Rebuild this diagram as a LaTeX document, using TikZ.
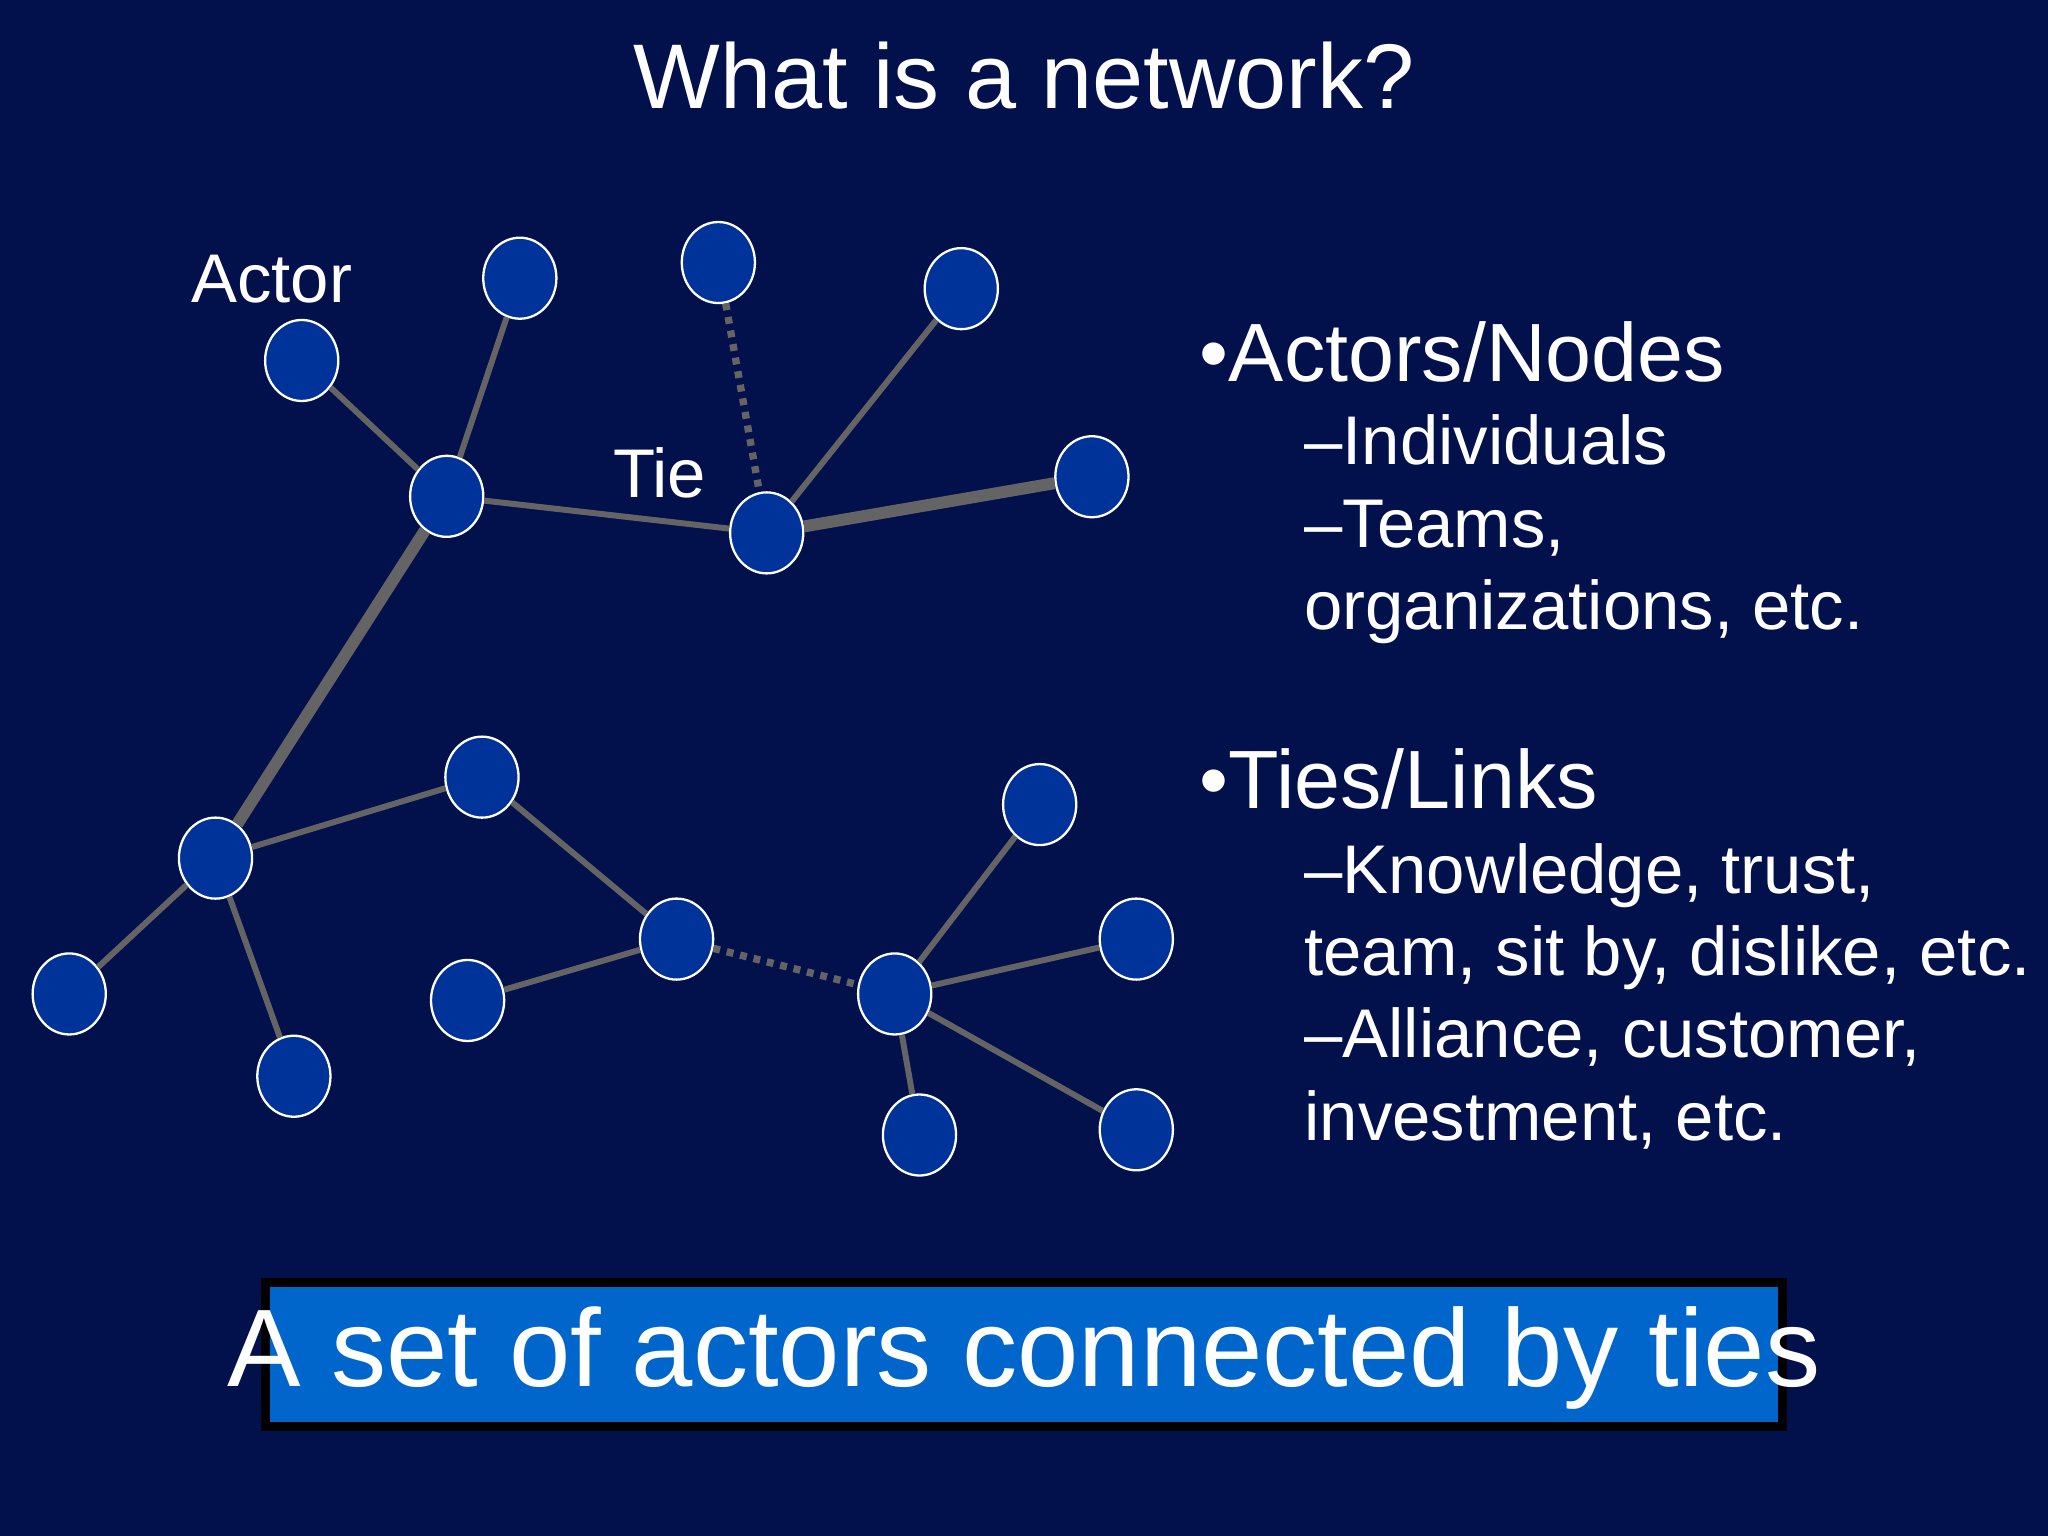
\documentclass[tikz,border=0pt]{standalone}
\usepackage{fontspec}
\setmainfont{Liberation Sans}
\usetikzlibrary{shapes.geometric}
\definecolor{bg}{RGB}{2,16,76}
\definecolor{nodefill}{RGB}{0,51,153}
\definecolor{tiegray}{RGB}{100,100,100}
\definecolor{boxblue}{RGB}{0,102,204}
\begin{document}
\begin{tikzpicture}[x=0.01cm,y=-0.01cm,
  actor/.style={shape=ellipse,draw=white,line width=0.5pt,fill=nodefill,minimum width=0.56cm,minimum height=0.62cm,inner sep=0pt},
  tie/.style={draw=tiegray,line width=1.3pt},
  thick tie/.style={tie,line width=2.6pt},
  dot tie/.style={tie,dash pattern=on 1.5pt off 1.5pt,line width=1.6pt},
  txt/.style={text=white,anchor=base west,inner sep=0pt}]
\useasboundingbox (0,0) rectangle (1568,1176);
\fill[bg] (0,0) rectangle (1568,1176);
\node[text=white,font=\fontsize{20}{24}\selectfont] (title) at (784,58) {What is a network?};
\foreach \n/\x/\y in {A/231/276,B/398/213,C/550/201,D/736/221,E/342/380,F/587/408,G/836/365,H/165/657,I/369/595,J/53/761,K/225/824,L/358/766,M/518/719,N/796/616,O/870/719,P/685/761,Q/704/869,R/870/865}
  \node[actor] (\n) at (\x,\y) {};
\draw[tie] (A) -- (E); \draw[tie] (B) -- (E); \draw[tie] (E) -- (F);
\draw[dot tie] (C) -- (F); \draw[tie] (D) -- (F); \draw[thick tie] (F) -- (G);
\draw[thick tie] (E) -- (H); \draw[tie] (H) -- (I); \draw[tie] (H) -- (J); \draw[tie] (H) -- (K);
\draw[tie] (I) -- (M); \draw[tie] (L) -- (M); \draw[dot tie] (M) -- (P);
\draw[tie] (P) -- (N); \draw[tie] (P) -- (O); \draw[tie] (P) -- (Q); \draw[tie] (P) -- (R);
\node[text=white,font=\fontsize{15}{18}\selectfont] (actorlbl) at (208,214) {Actor};
\node[text=white,font=\fontsize{15}{18}\selectfont] (tielbl) at (505,362) {Tie};
\begin{scope}[font=\fontsize{18}{21}\selectfont]
\node[txt] (b1) at (918,292) {•Actors/Nodes};
\node[txt] (b2) at (918,619) {•Ties/Links};
\end{scope}
\begin{scope}[font=\fontsize{15}{18}\selectfont]
\node[txt] (s1) at (998,356) {–Individuals};
\node[txt] (s2) at (998,419) {–Teams,};
\node[txt] (s3) at (998,482) {organizations, etc.};
\node[txt] (s4) at (998,684) {–Knowledge, trust,};
\node[txt] (s5) at (998,747) {team, sit by, dislike, etc.};
\node[txt] (s6) at (998,810) {–Alliance, customer,};
\node[txt] (s7) at (998,873) {investment, etc.};
\end{scope}
\draw[black,line width=2pt,fill=boxblue] (203,982) rectangle (1365,1092);
\node[text=white,font=\fontsize{24}{28}\selectfont] (box) at (784,1040) {A set of actors connected by ties};
\end{tikzpicture}
\end{document}
